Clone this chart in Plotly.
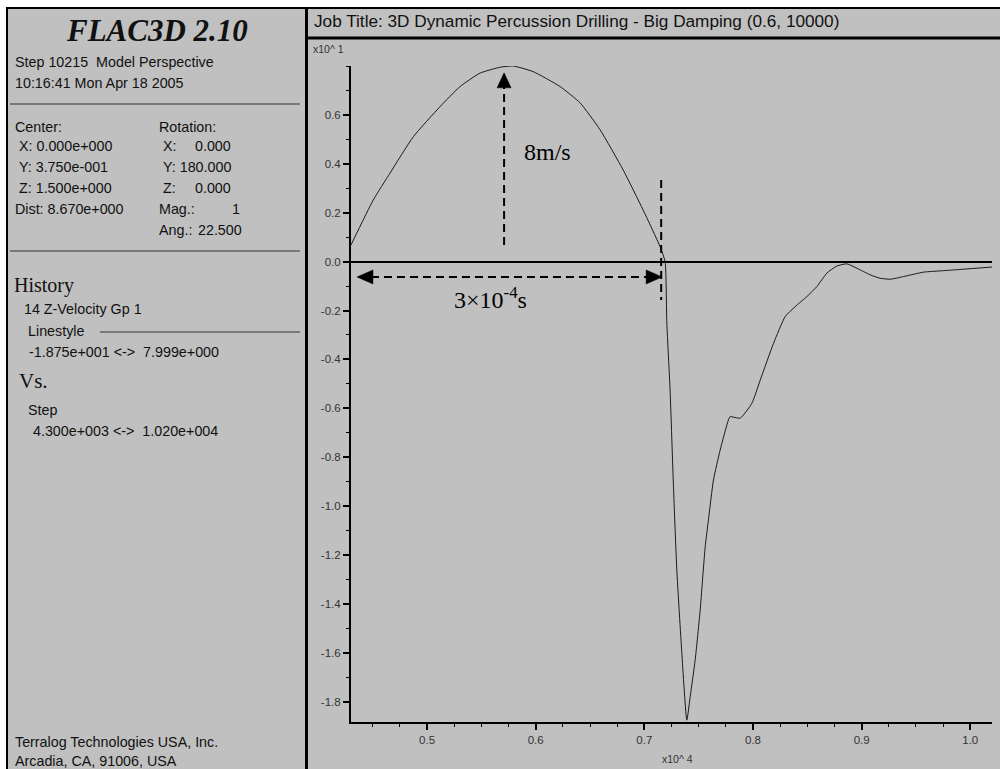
import plotly.graph_objects as go

# ---------------- data (history 14: Z-velocity of grid point 1 vs step) ----------------
steps = [4300, 4505, 4659, 4874, 5120, 5304, 5488, 5672, 5792, 5976, 6224, 6409, 6593,
         6805, 6989, 7145, 7191, 7207, 7237, 7268, 7299, 7345, 7391, 7422, 7468, 7514,
         7560, 7590, 7636, 7698, 7774, 7790, 7882, 7990, 8067, 8189, 8296, 8388, 8496,
         8588, 8680, 8772, 8864, 8956, 9079, 9171, 9263, 9386, 9570, 9754, 9938, 10200]
z_velocity = [0.68, 2.52, 3.62, 5.11, 6.34, 7.16, 7.71, 7.95, 7.999, 7.77, 7.16, 6.49, 5.39,
              3.75, 2.11, 0.61, 0.0, -2.51, -5.25, -9.20, -12.61, -16.00, -18.75, -17.79,
              -16.29, -14.25, -11.66, -10.56, -8.93, -7.70, -6.47, -6.34, -6.40, -5.79,
              -4.84, -3.34, -2.25, -1.84, -1.43, -1.02, -0.47, -0.18, -0.09, -0.27, -0.54,
              -0.68, -0.72, -0.61, -0.43, -0.37, -0.31, -0.22]

x_scale = 1e4   # x10^4
y_scale = 10.0  # x10^1

x_tick_vals = [0.5, 0.6, 0.7, 0.8, 0.9, 1.0]
x_tick_text = ["0.5", "0.6", "0.7", "0.8", "0.9", "1.0"]
y_tick_vals = [0.6, 0.4, 0.2, 0.0, -0.2, -0.4, -0.6, -0.8, -1.0, -1.2, -1.4, -1.6, -1.8]
y_tick_text = ["0.6", "0.4", "0.2", "0.0", "-0.2", "-0.4", "-0.6", "-0.8", "-1.0",
               "-1.2", "-1.4", "-1.6", "-1.8"]

title_text = "Job Title: 3D Dynamic Percussion Drilling - Big Damping (0.6, 10000)"

# annotation geometry (in step / m/s)
peak_arrow_step = 5709
peak_arrow_from = 0.68
peak_arrow_to = 7.72
period_start_step = 4355
period_end_step = 7164
period_arrow_v = -0.626
marker_line_step = 7155
marker_line_v = (3.34, -1.57)

# ---------------- figure ----------------
W, H = 1000, 769
def px(x):
    return x / W
def py(y):
    return 1 - y / H

GREY = "#c0c0c0"
SANS = "Liberation Sans, Arial, sans-serif"
SERIF = "Liberation Serif, Times New Roman, serif"

fig = go.Figure()
fig.add_trace(go.Scatter(
    x=[s / x_scale for s in steps],
    y=[v / y_scale for v in z_velocity],
    mode="lines",
    line=dict(color="#1a1a1a", width=1, shape="spline", smoothing=0.5),
    hoverinfo="skip",
    showlegend=False,
))

shapes = []
# outer frame + panels
shapes.append(dict(type="rect", xref="paper", yref="paper", x0=px(7), y0=py(772), x1=px(1003), y1=py(8),
                   fillcolor=GREY, line=dict(color="black", width=2), layer="below"))
shapes.append(dict(type="line", xref="paper", yref="paper", x0=px(306.5), x1=px(306.5), y0=py(8), y1=py(772),
                   line=dict(color="black", width=3)))
shapes.append(dict(type="line", xref="paper", yref="paper", x0=px(306), x1=px(1003), y0=py(38), y1=py(38),
                   line=dict(color="black", width=3)))
# left-panel separators
for (xa, xb, yy) in [(10, 300, 104), (10, 300, 251), (100, 300, 332)]:
    shapes.append(dict(type="line", xref="paper", yref="paper", x0=px(xa), x1=px(xb), y0=py(yy), y1=py(yy),
                       line=dict(color="#333333", width=1)))

# dashed annotation lines (data coords)
dx = 1.0 / 1086.0   # one pixel in x (x10^4 units)
dy = 1.0 / 244.5    # one pixel in y (x10^1 units)
ax_x = peak_arrow_step / x_scale
shapes.append(dict(type="line", xref="x", yref="y", x0=ax_x, x1=ax_x,
                   y0=peak_arrow_from / y_scale, y1=peak_arrow_to / y_scale - 14 * dy,
                   line=dict(color="black", width=2, dash="8px,5px")))
shapes.append(dict(type="path", xref="x", yref="y",
                   path=f"M {ax_x - 7*dx},{peak_arrow_to/y_scale - 15*dy} L {ax_x + 7*dx},{peak_arrow_to/y_scale - 15*dy} L {ax_x},{peak_arrow_to/y_scale} Z",
                   fillcolor="black", line=dict(color="black", width=0.5)))
hx0 = period_start_step / x_scale
hx1 = period_end_step / x_scale
hy = period_arrow_v / y_scale
shapes.append(dict(type="line", xref="x", yref="y", x0=hx0 + 14 * dx, x1=hx1 - 14 * dx, y0=hy, y1=hy,
                   line=dict(color="black", width=2, dash="8px,5px")))
shapes.append(dict(type="path", xref="x", yref="y",
                   path=f"M {hx0},{hy} L {hx0 + 16*dx},{hy + 7*dy} L {hx0 + 16*dx},{hy - 7*dy} Z",
                   fillcolor="black", line=dict(color="black", width=0.5)))
shapes.append(dict(type="path", xref="x", yref="y",
                   path=f"M {hx1},{hy} L {hx1 - 16*dx},{hy + 7*dy} L {hx1 - 16*dx},{hy - 7*dy} Z",
                   fillcolor="black", line=dict(color="black", width=0.5)))
vx = marker_line_step / x_scale
shapes.append(dict(type="line", xref="x", yref="y", x0=vx, x1=vx,
                   y0=marker_line_v[0] / y_scale, y1=marker_line_v[1] / y_scale,
                   line=dict(color="black", width=2, dash="8px,5px")))

annotations = []
def txt(s, x, y, size=14.3, family=SANS, color="#111111", anchor="left", **kw):
    annotations.append(dict(text=s, x=px(x), y=py(y), xref="paper", yref="paper",
                            xanchor=anchor, yanchor="middle", showarrow=False,
                            font=dict(family=family, size=size, color=color), **kw))

NB = "\u00a0"
txt("<b><i>FLAC3D 2.10</i></b>", 157, 31, size=31, family=SERIF, color="#111111", anchor="center")
txt(f"Step 10215{NB}{NB}Model Perspective", 13, 62)
txt("10:16:41 Mon Apr 18 2005", 13, 83)
txt("Center:", 13, 127)
txt("Rotation:", 157, 127)
txt("X: 0.000e+000", 17, 146)
txt("Y: 3.750e-001", 17, 167)
txt("Z: 1.500e+000", 17, 188)
txt("Dist: 8.670e+000", 13, 209)
txt("X:", 161, 146)
txt("0.000", 193, 146)
txt("Y: 180.000", 161, 167)
txt("Z:", 161, 188)
txt("0.000", 193, 188)
txt("Mag.:", 157, 209)
txt("1", 230, 209)
txt("Ang.:", 157, 230)
txt("22.500", 196, 230)
txt("History", 12, 285, size=20, family=SERIF)
txt("14 Z-Velocity Gp 1", 22, 309)
txt("Linestyle", 26, 331)
txt(f"-1.875e+001 &lt;-&gt;{NB}{NB}7.999e+000", 27, 352)
txt("Vs.", 17, 381, size=21, family=SERIF)
txt("Step", 26, 410)
txt(f"4.300e+003 &lt;-&gt;{NB}{NB}1.020e+004", 31, 431)
txt("Terralog Technologies USA, Inc.", 13, 742)
txt("Arcadia, CA, 91006, USA", 13, 761)

txt(title_text, 312, 21, size=17.2)
txt(f"x10^{NB}1", 311, 49, size=10.5, color="#333333")
txt(f"x10^{NB}4", 677, 759, size=10.5, color="#333333", anchor="center")

# chart annotations
txt("8m/s", 522, 152, size=24, family=SERIF, color="black")
txt("3×10<sup>-4</sup>s", 490, 298, size=24, family=SERIF, color="black", anchor="center")

fig.update_layout(
    width=W, height=H,
    margin=dict(l=0, r=0, t=0, b=0),
    paper_bgcolor="white",
    plot_bgcolor=GREY,
    showlegend=False,
    shapes=shapes,
    annotations=annotations,
    xaxis=dict(
        domain=[px(351), px(992)],
        range=[0.43, 1.02],
        tickmode="array", tickvals=x_tick_vals, ticktext=x_tick_text,
        ticks="outside", ticklen=6, tickwidth=2, tickcolor="black",
        minor=dict(dtick=0.025, tick0=0.5, ticks="outside", ticklen=3, tickwidth=1, tickcolor="black"),
        showline=True, linecolor="black", linewidth=2,
        showgrid=False, zeroline=False,
        tickfont=dict(family=SANS, size=11.5, color="#333333"),
        fixedrange=True,
    ),
    yaxis=dict(
        domain=[py(722), py(66)],
        range=[-1.8826, 0.8],
        tickmode="array", tickvals=y_tick_vals, ticktext=y_tick_text,
        ticks="outside", ticklen=6, tickwidth=2, tickcolor="black",
        minor=dict(dtick=0.1, tick0=0, ticks="outside", ticklen=3, tickwidth=1, tickcolor="black"),
        showline=True, linecolor="black", linewidth=2,
        showgrid=False,
        zeroline=True, zerolinecolor="black", zerolinewidth=2,
        tickfont=dict(family=SANS, size=11.5, color="#333333"),
        fixedrange=True,
    ),
)

fig.write_html("out.html")
